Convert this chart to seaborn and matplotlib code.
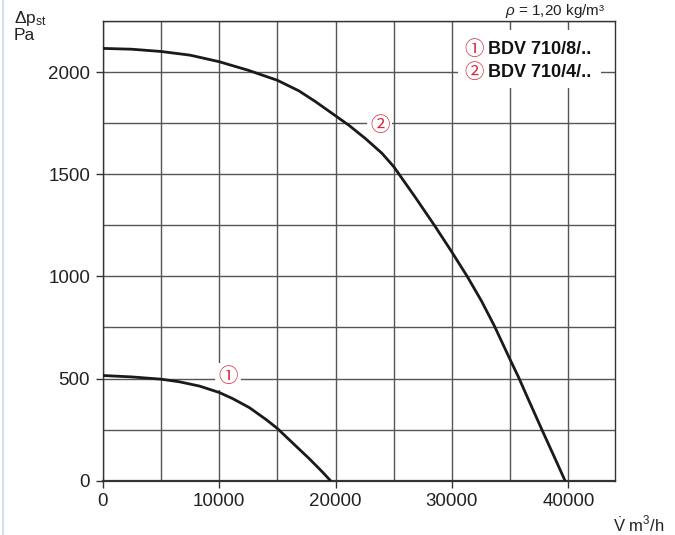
import numpy as np
import pandas as pd
import matplotlib
matplotlib.use("Agg")
import matplotlib.pyplot as plt
import matplotlib.ticker as mticker
from matplotlib.patches import Rectangle
from matplotlib.lines import Line2D
import seaborn as sns

# curve 1: BDV 710/8/..
flow_1 = [0, 2500, 5000, 6600, 8320, 10000, 11160, 12590, 14020, 15000, 16290,
          17720, 18850, 19570]
dp_1 = [515, 508, 497, 484, 463, 432, 402, 358, 300, 256, 186, 109, 44, 0]
# curve 2: BDV 710/4/..
flow_2 = [0, 2500, 5000, 7500, 10000, 12500, 15000, 16860, 18290, 20000,
          21140, 22560, 23980, 25000, 26840, 28490, 29960, 31330, 32530,
          33620, 35000, 35730, 36520, 37720, 38800, 39710]
dp_2 = [2116, 2112, 2101, 2083, 2051, 2009, 1960, 1908, 1855, 1786,
        1740, 1675, 1603, 1537, 1388, 1250, 1122, 998, 880,
        760, 592, 505, 403, 250, 115, 0]
legend_labels = ["BDV 710/8/..", "BDV 710/4/.."]
marks = ["\u2460", "\u2461"]

sns.set_theme(style="white")
plt.rcParams['font.family'] = ['Liberation Sans', 'DejaVu Sans']
plt.rcParams['mathtext.fontset'] = 'custom'
plt.rcParams['mathtext.rm'] = 'Liberation Sans'
plt.rcParams['mathtext.it'] = 'Liberation Sans:italic'

df = pd.concat([
    pd.DataFrame({"flow": flow_1, "dp": dp_1, "fan": legend_labels[0]}),
    pd.DataFrame({"flow": flow_2, "dp": dp_2, "fan": legend_labels[1]}),
])

fig = plt.figure(figsize=(6.75, 5.35), dpi=100)
ax = fig.add_axes([0.1521, 0.1015, 0.759, 0.8592])

sns.lineplot(data=df, x="flow", y="dp", units="fan", estimator=None, sort=False,
             color="#1a1a1a", lw=2.0, ax=ax, zorder=3)
for ln in ax.get_lines():
    ln.set_solid_joinstyle("round")

ax.set_xlim(0, 44000)
ax.set_ylim(0, 2250)
ax.xaxis.set_major_locator(mticker.MultipleLocator(10000))
ax.xaxis.set_minor_locator(mticker.MultipleLocator(5000))
ax.yaxis.set_major_locator(mticker.MultipleLocator(500))
ax.yaxis.set_minor_locator(mticker.MultipleLocator(250))
ax.set_axisbelow(True)
ax.grid(which="both", color="#555555", lw=1.0)
ax.tick_params(which="major", direction="out", length=5, width=1.0, color="#333333",
               labelsize=13.5, labelcolor="#222222", pad=4, bottom=True, left=True)
ax.tick_params(which="minor", length=0)
ax.set_xlabel("")
ax.set_ylabel("")
for s in ax.spines.values():
    s.set_color("#333333")
    s.set_linewidth(1.0)
ax.spines["bottom"].set_linewidth(1.6)

circ_font = ['Noto Sans CJK JP', 'DejaVu Sans']
red = "#d7263d"

# curve labels
ax.text(10770, 508, marks[0], color=red, fontsize=14, family=circ_font,
        ha="center", va="center", zorder=2,
        bbox=dict(boxstyle="square,pad=0.15", fc="white", ec="none"))
ax.text(23790, 1740, marks[1], color=red, fontsize=14, family=circ_font,
        ha="center", va="center", zorder=2,
        bbox=dict(boxstyle="square,pad=0.15", fc="white", ec="none"))

# legend box
ax.add_patch(Rectangle((0.6935, 0.8543), 0.2792, 0.1261, transform=ax.transAxes,
                       fc="white", ec="none", zorder=2))
for i, yy in enumerate([0.9384, 0.8876]):
    ax.text(0.7253, yy, marks[i], color=red, fontsize=14, family=circ_font,
            ha="center", va="center", transform=ax.transAxes, zorder=4)
    ax.text(0.7527, yy, legend_labels[i], color="#111111", fontsize=13,
            fontweight="bold", ha="left", va="center", transform=ax.transAxes,
            zorder=4)

# axis titles
fig.text(14 / 675, 1 - 19 / 535, r"$\Delta$p$_{\mathrm{st}}$", fontsize=12.5,
         color="#222222", ha="left", va="center")
fig.text(14 / 675, 1 - 35 / 535, "Pa", fontsize=12.5, color="#222222",
         ha="left", va="center")
fig.text(664 / 675, 1 - 525 / 535, r"$\dot{\mathrm{V}}$ m$^{3}$/h", fontsize=12,
         color="#222222", ha="right", va="center")
fig.text(605 / 675, 1 - 15 / 535, r"$\it{\rho}$ = 1,20 kg/m³", fontsize=11,
         color="#222222", ha="right", va="baseline")

# page edge line
fig.add_artist(Line2D([3 / 675, 3 / 675], [0, 1], transform=fig.transFigure,
                      color="#cfe0f0", lw=1.5))

fig.savefig("out.png", dpi=100)
